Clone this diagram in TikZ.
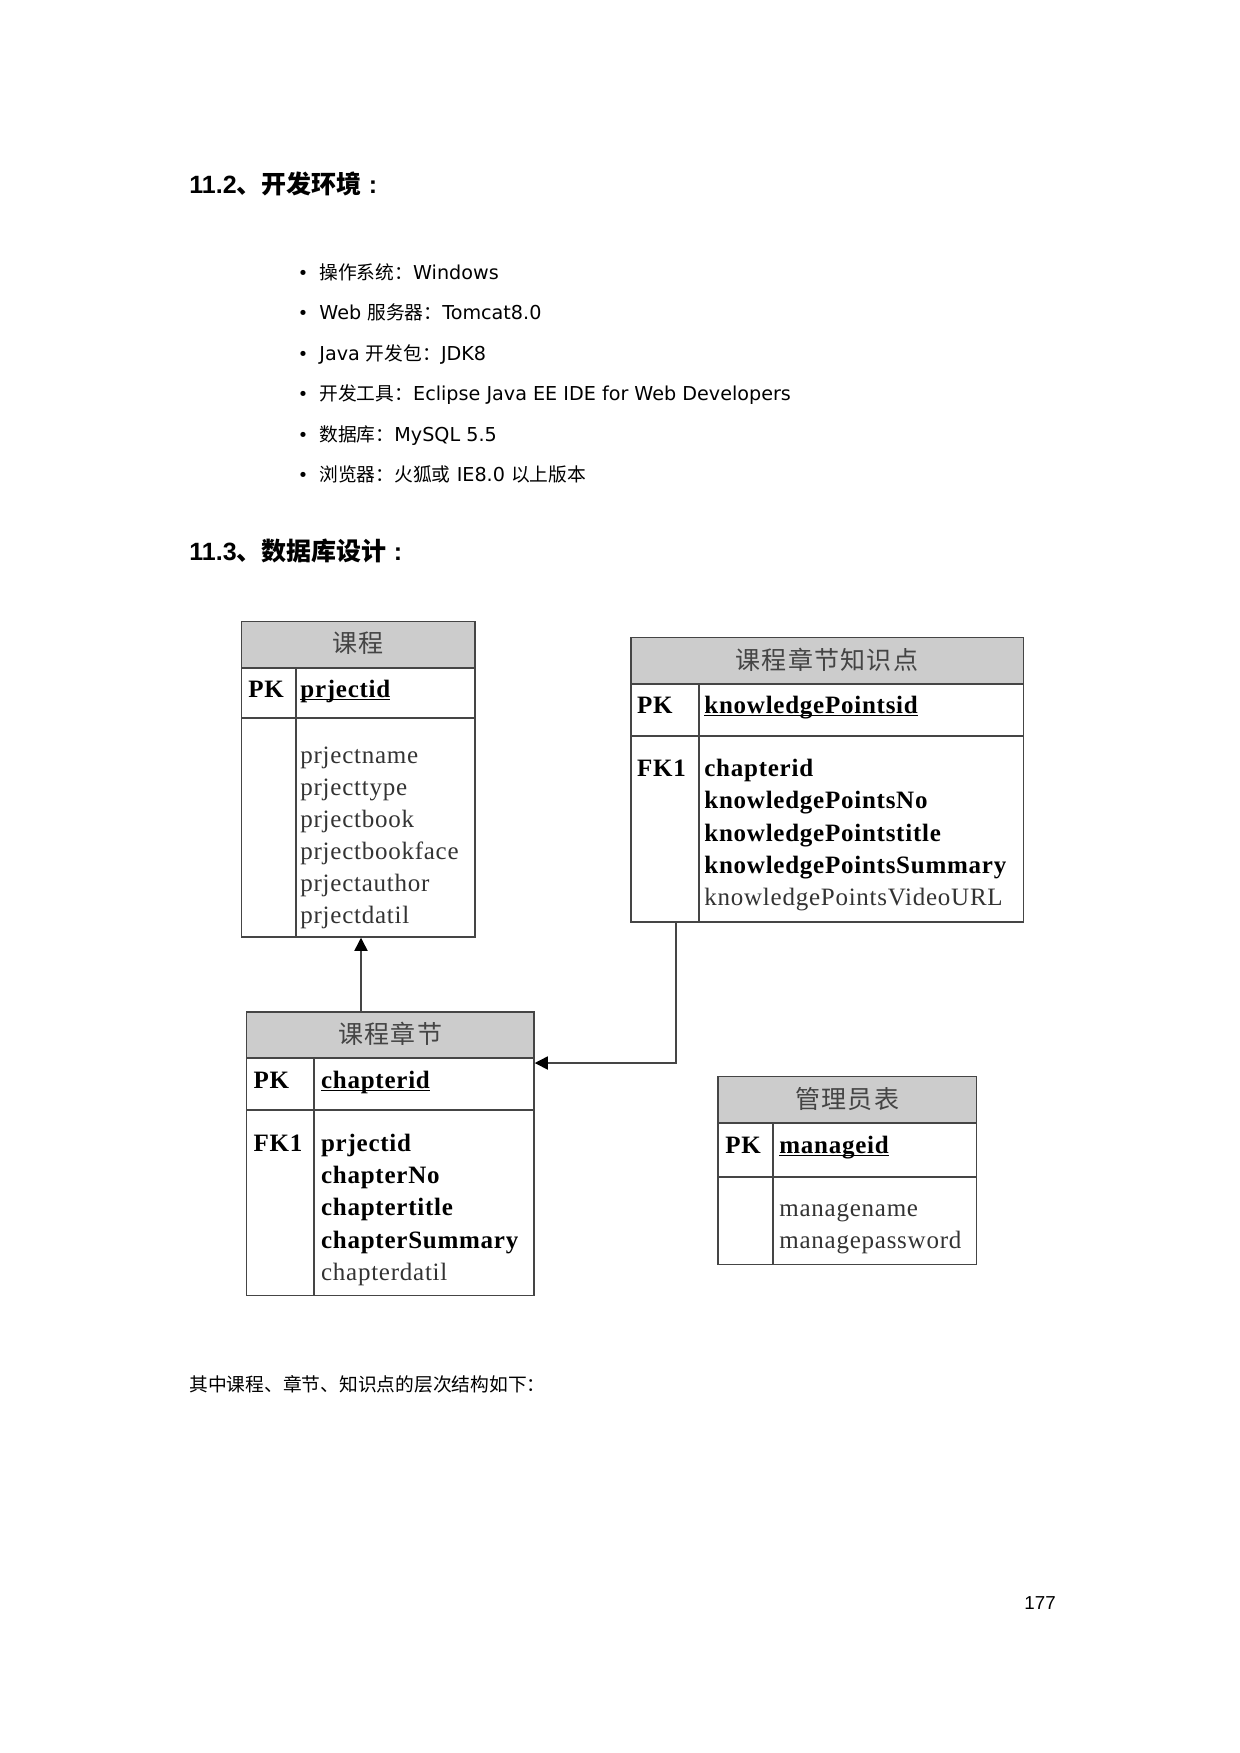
\documentclass[tikz,border=0pt]{standalone}
\usepackage{fontspec}
\setmainfont{Liberation Serif}
\newfontfamily\cjk{Noto Sans CJK SC}
\newfontfamily\cjkh[LetterSpace=5]{Noto Sans CJK SC}
\newfontfamily\tser[LetterSpace=3]{Liberation Serif}
\newfontfamily\dv{DejaVu Sans}
\newfontfamily\hd{Liberation Sans}
\usetikzlibrary{arrows.meta,fit,calc}

\definecolor{bc}{HTML}{454545}
\definecolor{hf}{HTML}{CCCCCC}
\definecolor{ht}{HTML}{444444}
\definecolor{ft}{HTML}{333333}

\newcommand\myul[1]{\setbox0\hbox{#1}\rlap{\rule[-1.3pt]{\wd0}{0.65pt}}\box0}
\newcommand\bcjk[1]{{\cjk\fontsize{9}{10}\selectfont #1}}

\newcommand\erdbox[8]{%
  \fill[hf] (#1,#2) rectangle (#3,#5);
  \draw[bc,line width=0.7pt] (#1,#5) -- (#3,#5) (#1,#6) -- (#3,#6) (#7,#5) -- (#7,#4);
  \node[fit={(#1,#2) (#3,#4)}, inner sep=0pt, draw=bc, line width=0.7pt] (#8) {};
}

\tikzset{
  hdtxt/.style={anchor=center, inner sep=0pt, text=ht, font=\cjkh\fontsize{12}{14}\selectfont},
  keytxt/.style={anchor=base west, inner sep=0pt, font=\tser\bfseries\fontsize{12}{14}\selectfont},
  fldb/.style={anchor=base west, inner sep=0pt, font=\tser\bfseries\fontsize{12}{14}\selectfont},
  fldn/.style={anchor=base west, inner sep=0pt, text=ft, font=\tser\fontsize{12}{14}\selectfont},
  bulmark/.style={anchor=base, inner sep=0pt, font=\dv\fontsize{8.5}{10}\selectfont},
  bultxt/.style={anchor=base west, inner sep=0pt, font=\dv\fontsize{9.2}{11}\selectfont},
  headtxt/.style={anchor=base west, inner sep=0pt, font=\fontsize{12}{14}\selectfont},
  bodytxt/.style={anchor=base west, inner sep=0pt, font=\cjk\fontsize{9}{10}\selectfont},
  arr/.style={draw=bc, line width=0.7pt, -{Triangle[length=6.3pt,width=6.3pt,color=black]}}
}

\begin{document}
\begin{tikzpicture}[x=0.48pt,y=-0.48pt]
\useasboundingbox[fill=white] (0,0) rectangle (1240,1753);

% headings
\node[headtxt] (h1) at (189,193.3) {{\hd\bfseries 11.2}{\cjk\bfseries 、开发环境}\hspace{3.5pt}{\hd\bfseries :}};
\node[headtxt] (h2) at (189,560) {{\hd\bfseries 11.3}{\cjk\bfseries 、数据库设计}\hspace{3.5pt}{\hd\bfseries :}};

% bullets
\foreach \i/\y in {1/279.3,2/319.8,3/360.3,4/400.7,5/441.2,6/481.6}
  \node[bulmark] (b\i) at (303,\y) {•};
\node[bultxt] (l1) at (319,279.3) {\bcjk{操作系统：}Windows};
\node[bultxt] (l2) at (319,319.8) {Web \bcjk{服务器：}Tomcat8.0};
\node[bultxt] (l3) at (319,360.3) {Java \bcjk{开发包：}JDK8};
\node[bultxt] (l4) at (319,400.7) {\bcjk{开发工具：}Eclipse Java EE IDE for Web Developers};
\node[bultxt] (l5) at (319,441.2) {\bcjk{数据库：}MySQL 5.5};
\node[bultxt] (l6) at (319,481.6) {\bcjk{浏览器：火狐或} IE8.0 \bcjk{以上版本}};

% tables
\erdbox{241.7}{621.7}{475}{937}{668}{718}{296}{t1}
\erdbox{631}{637.5}{1023.3}{922}{684}{736}{699}{t3}
\erdbox{246.7}{1012}{534}{1295.5}{1058}{1110}{314}{t2}
\erdbox{718}{1076.5}{976.5}{1264.5}{1123}{1177}{773}{t4}

% table 1
\node[hdtxt] (t1h) at (358.3,643) {课程};
\node[keytxt] (t1pk) at (248,697.3) {PK};
\node[fldb] (t1id) at (300,697.3) {\myul{prjectid}};
\node[fldn] (t1f1) at (300,763.3) {prjectname};
\node[fldn] (t1f2) at (300,795.4) {prjecttype};
\node[fldn] (t1f3) at (300,827.5) {prjectbook};
\node[fldn] (t1f4) at (300,859.6) {prjectbookface};
\node[fldn] (t1f5) at (300,891.7) {prjectauthor};
\node[fldn] (t1f6) at (300,923.8) {prjectdatil};

% table 3
\node[hdtxt] (t3h) at (827,659.5) {课程章节知识点};
\node[keytxt] (t3pk) at (636.7,713.3) {PK};
\node[fldb] (t3id) at (704,713.3) {\myul{knowledgePointsid}};
\node[keytxt] (t3fk) at (636.7,776.7) {FK1};
\node[fldb] (t3f1) at (704,776.7) {chapterid};
\node[fldb] (t3f2) at (704,808.9) {knowledgePointsNo};
\node[fldb] (t3f3) at (704,841.1) {knowledgePointstitle};
\node[fldb] (t3f4) at (704,873.3) {knowledgePointsSummary};
\node[fldn] (t3f5) at (704,905.5) {knowledgePointsVideoURL};

% table 2
\node[hdtxt] (t2h) at (390.3,1033.5) {课程章节};
\node[keytxt] (t2pk) at (253.3,1088.3) {PK};
\node[fldb] (t2id) at (320.7,1088.3) {\myul{chapterid}};
\node[keytxt] (t2fk) at (253.3,1151.7) {FK1};
\node[fldb] (t2f1) at (320.7,1151.7) {prjectid};
\node[fldb] (t2f2) at (320.7,1183.8) {chapterNo};
\node[fldb] (t2f3) at (320.7,1215.9) {chaptertitle};
\node[fldb] (t2f4) at (320.7,1248) {chapterSummary};
\node[fldn] (t2f5) at (320.7,1280.1) {chapterdatil};

% table 4
\node[hdtxt] (t4h) at (847.3,1099) {管理员表};
\node[keytxt] (t4pk) at (725,1153.3) {PK};
\node[fldb] (t4id) at (779,1153.3) {\myul{manageid}};
\node[fldn] (t4f1) at (779,1216.7) {managename};
\node[fldn] (t4f2) at (779,1248.3) {managepassword};

% connectors
\coordinate (c1) at (361,0);
\draw[arr] (c1 |- t2.north) -- (c1 |- t1.south);
\coordinate (c2) at (676,0);
\coordinate (c3) at (0,1063);
\draw[arr] (c2 |- t3.south) |- (c3 -| t2.east);

% body text and page number
\node[bodytxt] (body) at (189,1391) {其中课程、章节、知识点的层次结构如下：};
\node[anchor=base west, inner sep=0pt, font=\hd\fontsize{9}{11}\selectfont] (pg) at (1024,1609) {177};
\end{tikzpicture}
\end{document}
